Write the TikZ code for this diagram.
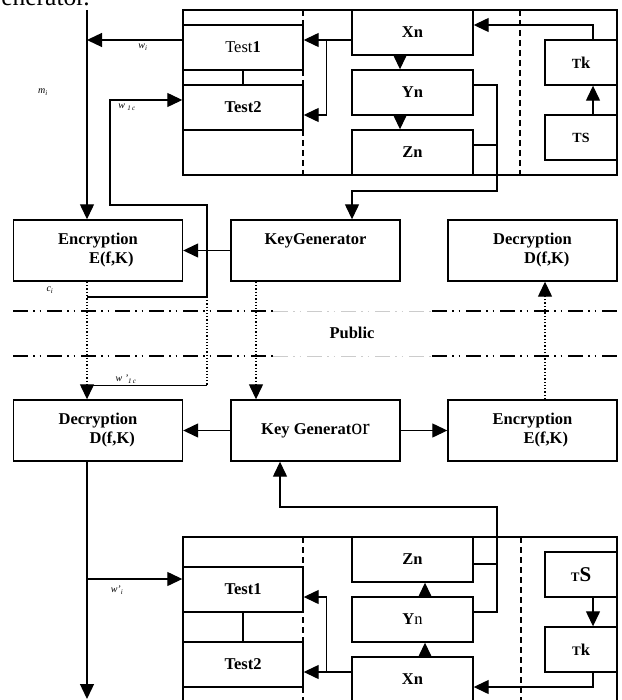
\documentclass[tikz,border=0pt]{standalone}
\usepackage{fontspec}
\setmainfont{Liberation Serif}
\usetikzlibrary{arrows.meta}

\begin{document}
\begin{tikzpicture}[x=1pt, y=-1pt, every node/.style={font=\fontsize{16.5}{19}\selectfont\bfseries},
  box/.style={draw, line width=1.4pt, minimum width=120pt, minimum height=45pt, inner sep=0pt, align=center},
  stg/.style={box, minimum width=121pt},
  tee/.style={box, minimum width=72pt},
  wide/.style={box, minimum width=169pt, minimum height=61pt, align=left},
  arr/.style={-{Triangle[length=15pt, width=14pt]}, line width=1.3pt},
  ln/.style={line width=1.3pt},
  dsh/.style={line width=1.2pt, dash pattern=on 6pt off 4pt},
  pub/.style={line width=1.4pt, dash pattern=on 15pt off 5pt on 1.5pt off 5pt on 1.5pt off 6pt},
  lbl/.style={font=\fontsize{10}{11}\selectfont\mdseries\itshape, inner sep=0pt}]
\useasboundingbox (0,0) rectangle (621,700);

\node[font=\fontsize{25.5}{28}\selectfont, anchor=base east, inner sep=0pt] (cap) at (90,6) {Generator.};

% sender side
\draw[ln] (183,10) rectangle (617,175);
\draw[dsh] (303,10) -- (303,175) (520,10) -- (520,175);
\node[box, font=\fontsize{16.5}{19}\selectfont] (t1a) at (243,47.5) {Test\textbf{1}};
\node[box] (t2a) at (243,107.5) {Test2};
\node[stg] (xa) at (412.5,32.5) {Xn};
\node[stg] (ya) at (412.5,92.5) {Yn};
\node[stg] (za) at (412.5,152.5) {Zn};
\node[tee] (tka) at (581,62.5) {{\fontsize{14}{16}\selectfont T}k};
\node[tee] (tsa) at (581,137.5) {{\fontsize{14}{16}\selectfont TS}};

\draw[ln] (t1a.south) -- (t2a.north);
\draw[arr] ([xshift=-12.5pt]xa.south) -- ([xshift=-12.5pt]ya.north);
\draw[arr] ([xshift=-12.5pt]ya.south) -- ([xshift=-12.5pt]za.north);
\draw[arr] ([yshift=-7.5pt]xa.west) -- ++(-25,0) coordinate (xj) -- ([yshift=7.5pt]t1a.east);
\draw[arr] (xj) |- ([yshift=-7.5pt]t2a.east);
\draw[arr] ([xshift=12pt]tsa.north) -- ([xshift=12pt]tka.south);
\draw[arr] ([xshift=12pt]tka.north) |- ([yshift=7.5pt]xa.east);

\node[wide] (enca) at (98,250.5) {Encryption\\\hspace*{31pt}E(f,K)};
\node[wide] (kga) at (315.5,250.5) {KeyGenerator\\\phantom{E(f,K)}};
\node[wide] (deca) at (532.5,250.5) {Decryption\\\hspace*{31pt}D(f,K)};

\draw[arr] ([yshift=7.5pt]ya.east) -- (497,85) -- (497,191) -| ([xshift=36.5pt]kga.north);
\draw[ln] ([yshift=7.5pt]za.east) -- (497,145);
\draw[arr] (kga.west) -- (enca.east);

\coordinate (mtop) at (87,10);
\coordinate (wi) at (87,40);
\coordinate (ci) at (87,297);
\draw[arr] (mtop) -- ([xshift=-11pt]enca.north);
\draw[arr] ([yshift=7.5pt]t1a.west) -- (wi);
\draw[arr, line width=1.2pt] (ci) -- (207,297) -- (207,205) -- (110,205) |- ([yshift=7.5pt]t2a.west);

\node[lbl] (lm) at (43,92) {m\textsubscript{i}};
\node[lbl] (lw) at (143,47) {w\textsubscript{i}};
\node[lbl] (lw1) at (127,107) {w \textsubscript{1\,c}};
\node[lbl] (lc) at (50,290) {c\textsubscript{i}};

% public channel
\draw[pub] (13,311) -- (273,311);
\draw[pub, gray!40, line width=0.8pt] (273,311) -- (432,311);
\draw[pub] (432,311) -- (621,311);
\draw[pub] (13,356) -- (273,356);
\draw[pub, gray!40, line width=0.8pt] (273,356) -- (432,356);
\draw[pub] (432,356) -- (621,356);
\node (pubtx) at (352,333) {Public};

\node[wide] (decb) at (98,430.5) {Decryption\\\hspace*{31pt}D(f,K)};
\node[wide] (kgb) at (315.5,430.5) {Key Generat{\fontsize{22}{22}\selectfont\mdseries or}};
\node[wide] (encb) at (532.5,430.5) {Encryption\\\hspace*{31pt}E(f,K)};

\draw[arr, dotted] ([xshift=-11pt]enca.south) -- ([xshift=-11pt]decb.north);
\draw[dotted, line width=1.2pt] (207,297) -- (207,385);
\draw[line width=0.8pt] (207,385) -- (87,385);
\draw[arr, dotted] ([xshift=-59.5pt]kga.south) -- ([xshift=-59.5pt]kgb.north);
\draw[arr, dotted] ([xshift=12.5pt]encb.north) -- ([xshift=12.5pt]deca.south);
\draw[arr] (kgb.west) -- (decb.east);
\draw[arr] (kgb.east) -- (encb.west);
\node[lbl] (lw2) at (126,379) {w '\textsubscript{1\,c}};

% receiver side
\draw[ln] (183,712) -- (183,537) -- (617,537) -- (617,712);
\draw[dsh] (303,537) -- (303,712) (521,537) -- (521,712);
\node[box] (t1b) at (243,589.5) {Test1};
\node[box] (t2b) at (243,664.5) {Test2};
\node[stg] (zb) at (412.5,559.5) {Zn};
\node[stg] (yb) at (412.5,619.5) {Y{\mdseries n}};
\node[stg] (xb) at (412.5,679.5) {Xn};
\node[tee] (tsb) at (581,574.5) {{\fontsize{13}{15}\selectfont T}{\fontsize{21}{22}\selectfont S}};
\node[tee] (tkb) at (581,649.5) {{\fontsize{13}{15}\selectfont T}k};

\draw[ln] (t1b.south) -- (t2b.north);
\draw[arr] ([xshift=12.5pt]xb.north) -- ([xshift=12.5pt]yb.south);
\draw[arr] ([xshift=12.5pt]yb.north) -- ([xshift=12.5pt]zb.south);
\draw[arr] ([yshift=7.5pt]xb.west) -- ++(-25,0) coordinate (xjb) -- ([yshift=-7.5pt]t2b.east);
\draw[arr] (xjb) |- ([yshift=-7.5pt]t1b.east);
\draw[arr] ([xshift=12pt]tsb.south) -- ([xshift=12pt]tkb.north);
\draw[arr] ([xshift=12pt]tkb.south) |- ([yshift=-7.5pt]xb.east);
\draw[arr] ([yshift=7.5pt]yb.east) -- (497,612) -- (497,507) -| ([xshift=-35.5pt]kgb.south);
\draw[ln] ([yshift=-4.5pt]zb.east) -- (497,564);

\coordinate (wb) at (87,579);
\coordinate (out) at (87,699);
\draw[arr] ([xshift=-11pt]decb.south) -- (out);
\draw[arr] (wb) -- ([yshift=10.5pt]t1b.west);
\node[lbl] (lwb) at (117,590) {w'\textsubscript{i}};
\end{tikzpicture}
\end{document}
